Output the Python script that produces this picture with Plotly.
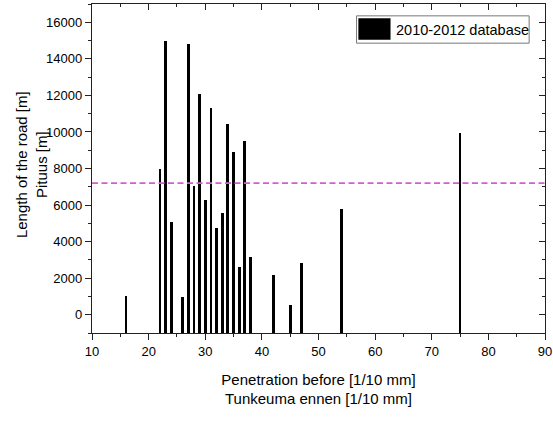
import plotly.graph_objects as go

# Data
penetration = [16, 22, 23, 24, 26, 27, 28, 29, 30, 31, 32, 33, 34, 35, 36, 37, 38, 42, 45, 47, 54, 75]
length_m = [1000, 8000, 15000, 5100, 950, 14800, 7050, 12050, 6250, 11300, 4750, 5550, 10450, 8900, 2600, 9500, 3150, 2150, 550, 2850, 5800, 9950]
threshold = 7200
series_name = "2010-2012 database"
y_title = "Length of the road [m]<br>Pituus [m]"
x_title = "Penetration before [1/10 mm]<br>Tunkeuma ennen [1/10 mm]"
BASE = -1000
X_RANGE = [10, 90]
Y_RANGE = [-1000, 17000]

FONT = "Liberation Sans, Arial, sans-serif"

fig = go.Figure()
fig.add_trace(go.Bar(
    x=penetration,
    y=[v - BASE for v in length_m],
    base=BASE,
    width=0.5,
    marker=dict(color="black", line=dict(width=0)),
    name=series_name,
    showlegend=False,
))
# invisible trace for mirrored axes
fig.add_trace(go.Scatter(x=[X_RANGE[0]], y=[Y_RANGE[0]], xaxis="x2", yaxis="y2",
                         mode="markers", marker=dict(opacity=0), showlegend=False,
                         hoverinfo="skip"))

axis_col = "#222222"
common_tick = dict(tickfont=dict(family=FONT, size=13, color="black"), linecolor=axis_col,
                   linewidth=1.3, tickcolor=axis_col, ticklen=6, tickwidth=1.2,
                   showgrid=False, zeroline=False, automargin=False)

fig.update_layout(
    width=553, height=421,
    margin=dict(l=92, r=8, t=4, b=88),
    plot_bgcolor="white", paper_bgcolor="white",
    bargap=0,
    xaxis=dict(range=X_RANGE, dtick=10, tick0=10, ticks="outside", showline=True,
               ticklabeloverflow="allow",
               minor=dict(dtick=5, ticks="outside", ticklen=3, tickcolor=axis_col),
               title=dict(text=x_title,
                          font=dict(family=FONT, size=15, color="black"), standoff=16),
               **common_tick),
    yaxis=dict(range=Y_RANGE, dtick=2000, tick0=0, ticks="outside", showline=True,
               tickformat="d",
               minor=dict(dtick=1000, ticks="outside", ticklen=3, tickcolor=axis_col),
               **common_tick),
    xaxis2=dict(range=X_RANGE, overlaying="x", side="top", anchor="y2", dtick=10, tick0=10,
                ticks="inside", showticklabels=False, showline=True,
                minor=dict(dtick=5, ticks="inside", ticklen=3, tickcolor=axis_col),
                **common_tick),
    yaxis2=dict(range=Y_RANGE, overlaying="y", side="right", anchor="x2", dtick=2000, tick0=0,
                ticks="inside", showticklabels=False, showline=True,
                minor=dict(dtick=1000, ticks="inside", ticklen=3, tickcolor=axis_col),
                **common_tick),
)

# y-axis title as annotation for precise placement
fig.add_annotation(xref="paper", yref="paper", x=-0.132, y=0.511, xanchor="center", yanchor="middle",
                   text=y_title, textangle=-90, showarrow=False,
                   font=dict(family=FONT, size=15, color="black"))

# threshold dashed line
fig.add_shape(type="line", xref="paper", yref="y", x0=0, x1=1, y0=threshold, y1=threshold,
              line=dict(color="#d65cd0", width=1.6, dash="6px,3.5px"))

# legend box drawn manually
fig.add_shape(type="rect", xref="paper", yref="paper", x0=0.584, x1=0.965, y0=0.881, y1=0.964,
              line=dict(color="#777777", width=1), fillcolor="white")
fig.add_shape(type="rect", xref="paper", yref="paper", x0=0.588, x1=0.659, y0=0.891, y1=0.957,
              line=dict(color="black", width=0), fillcolor="black")
fig.add_annotation(xref="paper", yref="paper", x=0.666, y=0.922, xanchor="left", yanchor="middle",
                   text=series_name, showarrow=False,
                   font=dict(family=FONT, size=14.5, color="black"))

fig.write_html("out.html")
